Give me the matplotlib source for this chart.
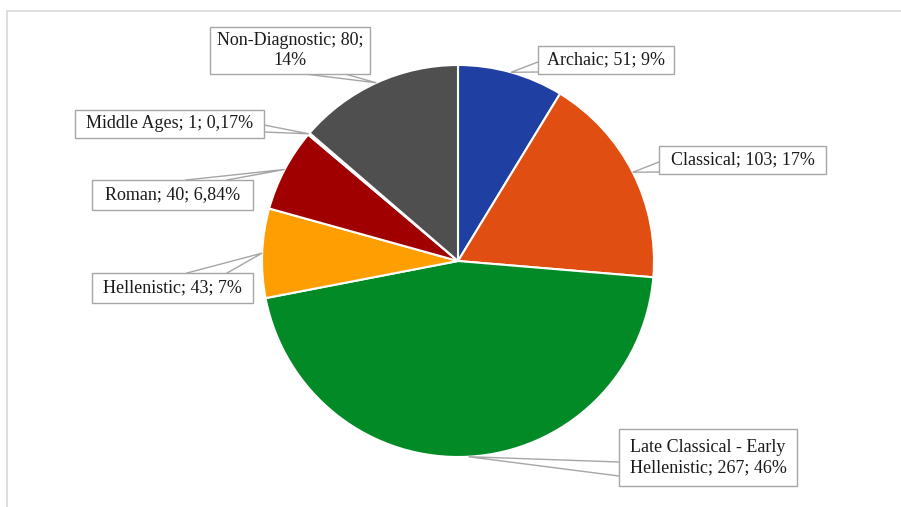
"""Pie chart of sherd counts by period, with Excel-style callout labels."""
import numpy as np
import matplotlib.pyplot as plt
from matplotlib.patches import Rectangle

W, H = 901, 507

periods = ["Archaic", "Classical", "Late Classical - Early Hellenistic",
           "Hellenistic", "Roman", "Middle Ages", "Non-Diagnostic"]
counts = [51, 103, 267, 43, 40, 1, 80]
labels = ["Archaic; 51; 9%", "Classical; 103; 17%",
          "Late Classical - Early\nHellenistic; 267; 46%",
          "Hellenistic; 43; 7%", "Roman; 40; 6,84%",
          "Middle Ages; 1; 0,17%", "Non-Diagnostic; 80;\n14%"]
colors = ["#1F3FA3", "#E04E12", "#018A26", "#FF9E00", "#A00000",
          "#C0C0C0", "#4F4F4F"]

# layout (pixel coords, y from top): label boxes and where the callout meets them
CENTER = (458, 261)
RADIUS = 196
boxes = [(538, 46, 674, 74), (659, 146, 826, 174), (619, 429, 797, 486),
         (92, 273, 253, 303), (92, 180, 253, 210), (75, 110, 264, 138),
         (210, 27, 370, 74)]
# side of box, and the two positions along it
bases = [("left", 62, 72), ("left", 162, 172), ("left", 462, 476),
         ("top", 187, 227), ("top", 186, 227), ("right", 125, 132),
         ("bottom", 305, 345)]


def fy(y):
    return H - y


fig = plt.figure(figsize=(W / 100, H / 100), dpi=100)
ax = fig.add_axes([0, 0, 1, 1])

ax.pie(counts, colors=colors, startangle=90, counterclock=False,
       center=(CENTER[0], fy(CENTER[1])), radius=RADIUS,
       wedgeprops={"edgecolor": "white", "linewidth": 1.5})

# pie() resets the limits, so set them afterwards
ax.set_xlim(0, W)
ax.set_ylim(0, H)
ax.set_aspect("equal")
ax.axis("off")

# outer chart frame
ax.plot([7, W], [fy(11), fy(11)], color="#D9D9D9", lw=1.2)
ax.plot([7, 7], [fy(11), 0], color="#D9D9D9", lw=1.2)

total = sum(counts)
start = 0.0
for lab, cnt, box, base in zip(labels, counts, boxes, bases):
    mid = start + cnt / total * 360 / 2
    start += cnt / total * 360
    ang = np.deg2rad(mid)
    px = CENTER[0] + RADIUS * np.sin(ang)
    py = CENTER[1] - RADIUS * np.cos(ang)

    x0, y0, x1, y1 = box
    side, a, b = base
    if side == "left":
        p1, p2 = (x0, a), (x0, b)
    elif side == "right":
        p1, p2 = (x1, a), (x1, b)
    elif side == "top":
        p1, p2 = (a, y0), (b, y0)
    else:
        p1, p2 = (a, y1), (b, y1)
    ax.plot([p1[0], px, p2[0]], [fy(p1[1]), fy(py), fy(p2[1])],
            color="#A6A6A6", lw=1.0, zorder=3, solid_joinstyle="miter")

    ax.add_patch(Rectangle((x0, fy(y1)), x1 - x0, y1 - y0, facecolor="white",
                           edgecolor="#A6A6A6", lw=1.0, zorder=4))
    ax.text((x0 + x1) / 2, fy((y0 + y1) / 2), lab, ha="center", va="center",
            family="Liberation Serif", fontsize=13, linespacing=1.3,
            color="#1A1A1A", zorder=5)

fig.savefig("out.png", dpi=100)
